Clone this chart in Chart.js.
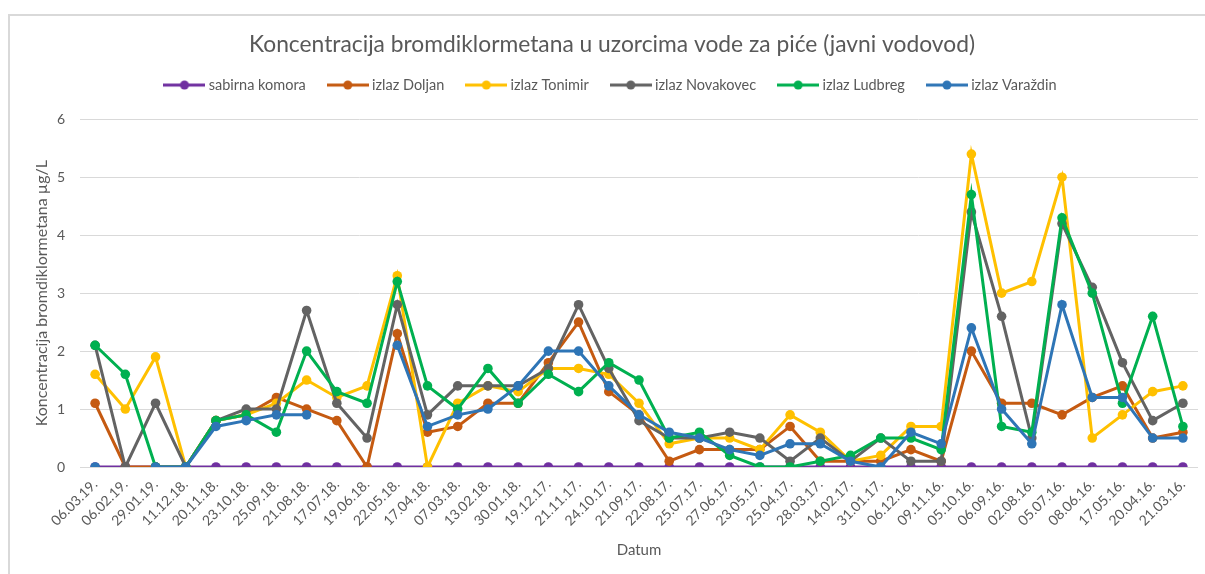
<!DOCTYPE html>
<html>
<head>
<meta charset="utf-8">
<script src="https://cdn.jsdelivr.net/npm/chart.js@4/dist/chart.umd.min.js"></script>
<style>
  html, body { margin: 0; padding: 0; background: #fff; }
  #wrap { position: relative; width: 1205px; height: 574px; overflow: hidden; }
  #frame { position: absolute; left: 8px; top: 14px; width: 1300px; height: 700px; border-left: 2px solid #d9d9d9; border-top: 2px solid #d9d9d9; }
  canvas { position: absolute; left: 0; top: 0; }
</style>
</head>
<body>
<div id="wrap">
  <div id="frame"></div>
  <canvas id="chart" width="1205" height="574"></canvas>
</div>
<script>
// datumi uzorkovanja (od najnovijeg prema najstarijem)
const datumi = ["06.03.19.", "06.02.19.", "29.01.19.", "11.12.18.", "20.11.18.", "23.10.18.", "25.09.18.", "21.08.18.", "17.07.18.", "19.06.18.",
  "22.05.18.", "17.04.18.", "07.03.18.", "13.02.18.", "30.01.18.", "19.12.17.", "21.11.17.", "24.10.17.", "21.09.17.", "22.08.17.",
  "25.07.17.", "27.06.17.", "23.05.17.", "25.04.17.", "28.03.17.", "14.02.17.", "31.01.17.", "06.12.16.", "09.11.16.", "05.10.16.",
  "06.09.16.", "02.08.16.", "05.07.16.", "08.06.16.", "17.05.16.", "20.04.16.", "21.03.16."];

const sabirnaKomora = [0, 0, 0, 0, 0, 0, 0, 0, 0, 0, 0, 0, 0, 0, 0, 0, 0, 0, 0, 0, 0, 0, 0, 0, 0, 0, 0, 0, 0, 0, 0, 0, 0, 0, 0, 0, 0];
const izlazDoljan = [1.1, 0, 0, 0, 0.8, 0.9, 1.2, 1.0, 0.8, 0, 2.3, 0.6, 0.7, 1.1, 1.1, 1.8, 2.5, 1.3, 0.9, 0.1,
  0.3, 0.3, 0.3, 0.7, 0.1, 0.1, 0.1, 0.3, 0.1, 2.0, 1.1, 1.1, 0.9, 1.2, 1.4, 0.5, 0.6];
const izlazTonimir = [1.6, 1.0, 1.9, 0, 0.8, 0.9, 1.1, 1.5, 1.2, 1.4, 3.3, 0, 1.1, 1.4, 1.3, 1.7, 1.7, 1.6, 1.1, 0.4,
  0.5, 0.5, 0.3, 0.9, 0.6, 0.1, 0.2, 0.7, 0.7, 5.4, 3.0, 3.2, 5.0, 0.5, 0.9, 1.3, 1.4];
const izlazNovakovec = [2.1, 0, 1.1, 0, 0.8, 1.0, 1.0, 2.7, 1.1, 0.5, 2.8, 0.9, 1.4, 1.4, 1.4, 1.7, 2.8, 1.7, 0.8, 0.5,
  0.5, 0.6, 0.5, 0.1, 0.5, 0.1, 0.5, 0.1, 0.1, 4.4, 2.6, 0.5, 4.2, 3.1, 1.8, 0.8, 1.1];
const izlazLudbreg = [2.1, 1.6, 0, 0, 0.8, 0.9, 0.6, 2.0, 1.3, 1.1, 3.2, 1.4, 1.0, 1.7, 1.1, 1.6, 1.3, 1.8, 1.5, 0.5,
  0.6, 0.2, 0, 0, 0.1, 0.2, 0.5, 0.5, 0.3, 4.7, 0.7, 0.6, 4.3, 3.0, 1.1, 2.6, 0.7];
const izlazVarazdin = [0, null, 0, 0, 0.7, 0.8, 0.9, 0.9, null, null, 2.1, 0.7, 0.9, 1.0, 1.4, 2.0, 2.0, 1.4, 0.9, 0.6,
  0.5, 0.3, 0.2, 0.4, 0.4, 0.1, 0, 0.6, 0.4, 2.4, 1.0, 0.4, 2.8, 1.2, 1.2, 0.5, 0.5];

const yTicks = [0, 1, 2, 3, 4, 5, 6];

const serije = [
  { label: "sabirna komora", data: sabirnaKomora, color: "#7030A0" },
  { label: "izlaz Doljan", data: izlazDoljan, color: "#C55A11" },
  { label: "izlaz Tonimir", data: izlazTonimir, color: "#FFC000" },
  { label: "izlaz Novakovec", data: izlazNovakovec, color: "#636363" },
  { label: "izlaz Ludbreg", data: izlazLudbreg, color: "#00B050" },
  { label: "izlaz Varaždin", data: izlazVarazdin, color: "#2E75B6" }
];

const font = "Lato";
const textColor = "#595959";

// mala slika linije s točkom za legendu
function legendMarker(color) {
  const c = document.createElement("canvas");
  c.width = 42;
  c.height = 10;
  const g = c.getContext("2d");
  g.strokeStyle = color;
  g.lineWidth = 3;
  g.beginPath();
  g.moveTo(0, 5);
  g.lineTo(42, 5);
  g.stroke();
  g.fillStyle = color;
  g.beginPath();
  g.arc(21, 5, 4.5, 0, Math.PI * 2);
  g.fill();
  return c;
}

// dodatni razmak ispod legende
const legendGap = {
  id: "legendGap",
  beforeLayout(chart) {
    const lg = chart.legend;
    if (lg && !lg._gap) {
      const fit = lg.fit;
      lg.fit = function () {
        fit.call(this);
        this.height += 17;
      };
      lg._gap = true;
    }
  }
};

const datasets = serije.map((s, i) => ({
  label: s.label,
  data: s.data,
  borderColor: s.color,
  backgroundColor: s.color,
  pointBackgroundColor: s.color,
  pointBorderColor: s.color,
  borderWidth: 3,
  pointRadius: 4.8,
  pointBorderWidth: 0,
  tension: 0,
  spanGaps: false,
  order: serije.length - i
}));

new Chart(document.getElementById("chart"), {
  type: "line",
  data: { labels: datumi, datasets },
  plugins: [legendGap],
  options: {
    responsive: false,
    animation: false,
    devicePixelRatio: 1,
    layout: { padding: { top: 14, left: 26, right: 7, bottom: 8 } },
    plugins: {
      title: {
        display: true,
        text: "Koncentracija bromdiklormetana u uzorcima vode za piće (javni vodovod)",
        color: textColor,
        font: { family: font, size: 22.8, weight: "normal" },
        padding: { top: 17, bottom: -5.6 }
      },
      legend: {
        display: true,
        position: "top",
        labels: {
          color: textColor,
          font: { family: font, size: 14.5 },
          usePointStyle: true,
          pointStyleWidth: 34,
          padding: 25,
          sort: (a, b) => a.datasetIndex - b.datasetIndex,
          generateLabels: (chart) =>
            chart.data.datasets.map((d, i) => ({
              text: d.label,
              datasetIndex: i,
              fillStyle: d.borderColor,
              strokeStyle: d.borderColor,
              fontColor: textColor,
              lineWidth: 0,
              hidden: false,
              pointStyle: legendMarker(d.borderColor)
            }))
        }
      },
      tooltip: { enabled: false }
    },
    scales: {
      x: {
        offset: true,
        grid: { display: false, drawTicks: false },
        border: { display: false },
        ticks: {
          color: textColor,
          font: { family: font, size: 14 },
          maxRotation: 45,
          minRotation: 45,
          autoSkip: false,
          padding: 9
        },
        title: {
          display: true,
          text: "Datum",
          color: textColor,
          font: { family: font, size: 15 },
          padding: { top: 0, bottom: 7 }
        },
        afterFit: (s) => { s.height = 99; }
      },
      y: {
        min: 0,
        max: 6,
        afterBuildTicks: (s) => { s.ticks = yTicks.map((v) => ({ value: v })); },
        grid: { color: "#d9d9d9", lineWidth: 1, drawTicks: false },
        border: { display: false },
        ticks: {
          color: textColor,
          font: { family: font, size: 14 },
          padding: 15
        },
        title: {
          display: true,
          text: "Koncentracija bromdiklormetana µg/L",
          color: textColor,
          font: { family: font, size: 16 },
          padding: { top: 6, bottom: 0 }
        },
        afterFit: (s) => { s.width = 54; }
      }
    }
  }
});
</script>
</body>
</html>
